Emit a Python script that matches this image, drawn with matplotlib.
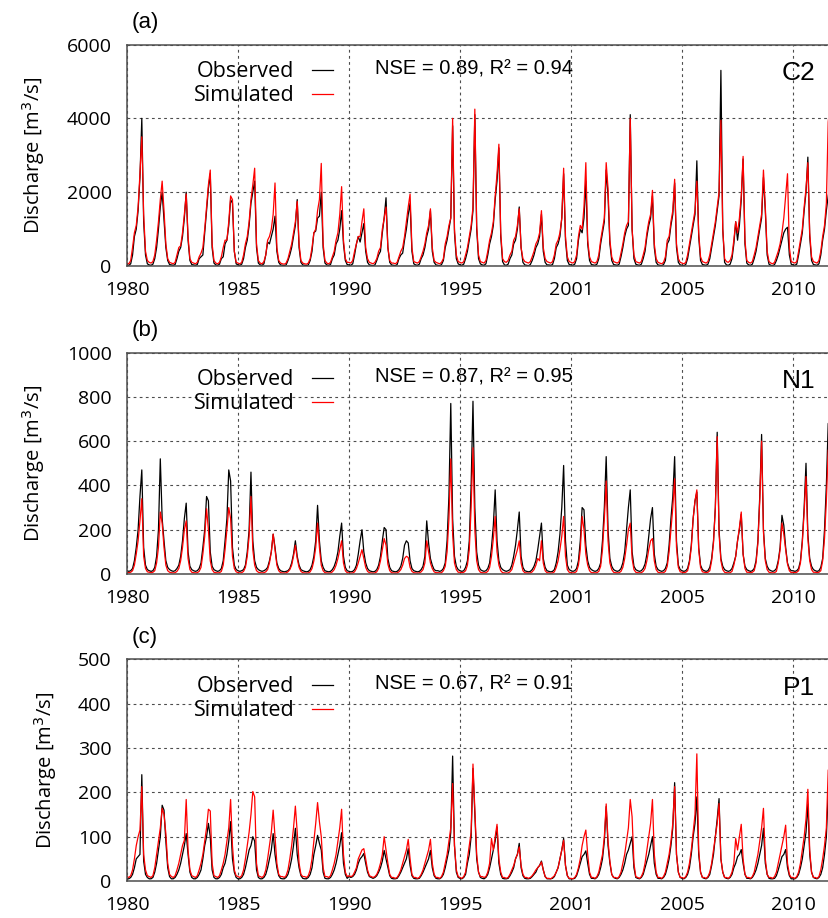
import numpy as np
import matplotlib.pyplot as plt

# monthly discharge, one row per year (Jan..Dec), 1980 - 2011
c2_obs = [
    [30, 20, 60, 300, 800, 1000, 1500, 2400, 4000, 1200, 300, 60],
    [30, 20, 50, 200, 500, 1000, 1600, 2000, 1250, 500, 150, 40],
    [30, 20, 40, 200, 400, 500, 800, 1300, 2000, 700, 150, 40],
    [30, 20, 40, 200, 250, 300, 900, 1500, 2100, 2500, 500, 80],
    [30, 20, 50, 200, 250, 600, 700, 1100, 1800, 1700, 400, 60],
    [30, 20, 50, 200, 500, 700, 1100, 1700, 2000, 2300, 500, 80],
    [30, 20, 60, 300, 650, 600, 800, 1000, 1350, 400, 100, 30],
    [20, 10, 30, 150, 300, 500, 800, 1100, 1800, 500, 100, 30],
    [20, 10, 30, 150, 400, 900, 950, 1300, 1350, 2000, 500, 80],
    [30, 20, 40, 200, 300, 600, 700, 1000, 1500, 600, 150, 40],
    [30, 20, 60, 300, 600, 800, 650, 900, 1150, 400, 100, 30],
    [20, 10, 30, 150, 300, 400, 900, 1300, 1850, 500, 100, 30],
    [20, 10, 40, 200, 300, 350, 700, 1000, 1400, 1700, 400, 60],
    [30, 20, 50, 200, 300, 500, 800, 1000, 1500, 400, 100, 30],
    [20, 10, 40, 150, 500, 700, 1000, 1300, 3800, 900, 200, 60],
    [30, 20, 50, 200, 400, 700, 1000, 1500, 4100, 1000, 200, 60],
    [30, 20, 60, 300, 600, 800, 1100, 1800, 2300, 3200, 800, 120],
    [30, 20, 50, 200, 300, 600, 700, 1000, 1600, 500, 100, 30],
    [20, 10, 40, 150, 300, 500, 600, 800, 1400, 400, 100, 30],
    [30, 20, 40, 200, 500, 600, 800, 1300, 2500, 700, 150, 40],
    [30, 20, 50, 200, 700, 1000, 900, 1300, 2300, 600, 150, 40],
    [30, 20, 50, 200, 600, 900, 1200, 2600, 1900, 600, 150, 40],
    [30, 20, 50, 250, 500, 800, 1000, 1100, 4100, 1000, 200, 50],
    [30, 20, 50, 200, 400, 800, 1100, 1300, 1900, 500, 100, 30],
    [20, 10, 40, 150, 600, 700, 1100, 1400, 2250, 500, 100, 30],
    [20, 10, 40, 200, 500, 800, 1100, 1400, 2850, 800, 150, 40],
    [30, 20, 50, 200, 500, 800, 1100, 1500, 1900, 5300, 1000, 100],
    [30, 20, 50, 200, 600, 1200, 700, 1100, 1800, 2900, 600, 80],
    [30, 20, 50, 200, 400, 700, 1000, 1300, 2400, 1500, 300, 50],
    [20, 10, 40, 150, 300, 500, 700, 900, 1000, 1050, 300, 50],
    [30, 20, 50, 300, 600, 900, 1500, 2000, 2950, 800, 150, 40],
    [30, 20, 60, 300, 700, 1000, 1500, 1900, 2200],
]
c2_sim = [
    [80, 60, 150, 500, 900, 1100, 1600, 2500, 3500, 1400, 400, 150],
    [100, 80, 120, 300, 700, 1200, 1800, 2300, 1500, 600, 200, 100],
    [80, 60, 100, 300, 500, 550, 900, 1400, 1950, 800, 200, 100],
    [80, 60, 100, 250, 350, 500, 1000, 1600, 2200, 2600, 600, 150],
    [80, 60, 100, 250, 500, 700, 700, 1200, 1900, 1800, 400, 100],
    [80, 60, 100, 300, 600, 800, 1200, 1800, 2200, 2650, 600, 150],
    [80, 60, 120, 300, 700, 800, 1000, 1400, 2250, 500, 150, 80],
    [60, 50, 80, 200, 400, 600, 900, 1200, 1750, 600, 150, 80],
    [60, 50, 80, 200, 500, 900, 1000, 1500, 1800, 2780, 600, 150],
    [80, 60, 100, 250, 400, 700, 900, 1400, 2150, 700, 200, 100],
    [100, 80, 150, 400, 600, 800, 800, 1200, 1550, 500, 200, 100],
    [80, 60, 100, 200, 400, 500, 1000, 1300, 1600, 500, 150, 80],
    [80, 60, 100, 250, 400, 500, 800, 1200, 1600, 1950, 500, 120],
    [100, 80, 120, 250, 400, 600, 900, 1100, 1550, 500, 150, 100],
    [80, 60, 100, 200, 600, 800, 1100, 1300, 4000, 1000, 300, 120],
    [100, 80, 120, 300, 500, 800, 1100, 1600, 4250, 1100, 300, 120],
    [100, 80, 150, 400, 700, 900, 1200, 1900, 2500, 3300, 900, 200],
    [120, 100, 150, 300, 400, 700, 800, 1100, 1550, 500, 200, 120],
    [100, 80, 120, 250, 400, 600, 700, 900, 1500, 500, 200, 120],
    [100, 80, 120, 300, 600, 700, 900, 1300, 2650, 800, 250, 120],
    [100, 80, 120, 300, 800, 1100, 1000, 1600, 2800, 700, 250, 120],
    [100, 80, 120, 300, 700, 1000, 1300, 2800, 2100, 700, 250, 120],
    [100, 80, 120, 350, 600, 900, 1100, 1200, 4000, 1000, 300, 120],
    [100, 80, 120, 300, 500, 900, 1200, 1400, 2050, 600, 200, 100],
    [80, 60, 100, 250, 700, 800, 1200, 1500, 2350, 600, 200, 100],
    [80, 60, 100, 300, 600, 900, 1200, 1500, 2300, 900, 250, 120],
    [100, 80, 120, 300, 600, 900, 1200, 1600, 2000, 3950, 1000, 200],
    [120, 100, 150, 300, 700, 1200, 900, 1300, 1900, 2970, 700, 150],
    [100, 80, 120, 300, 500, 800, 1100, 1400, 2600, 1600, 400, 120],
    [80, 60, 100, 250, 400, 600, 900, 1300, 1900, 2500, 500, 120],
    [100, 80, 120, 400, 700, 1000, 1600, 2100, 2800, 900, 250, 120],
    [100, 80, 150, 400, 800, 1100, 1700, 3900, 4400],
]

n1_obs = [
    [15, 12, 15, 25, 60, 120, 200, 350, 470, 120, 40, 20],
    [15, 12, 15, 30, 80, 200, 520, 250, 150, 60, 30, 20],
    [15, 12, 15, 25, 40, 80, 150, 250, 320, 100, 35, 20],
    [15, 12, 15, 25, 50, 120, 200, 350, 330, 100, 35, 20],
    [15, 12, 15, 25, 60, 150, 250, 470, 420, 120, 40, 20],
    [15, 12, 15, 20, 40, 100, 200, 460, 150, 60, 30, 20],
    [15, 12, 15, 20, 30, 60, 100, 180, 120, 50, 25, 15],
    [12, 10, 12, 15, 25, 50, 90, 150, 80, 40, 20, 15],
    [12, 10, 12, 20, 40, 80, 150, 310, 150, 60, 30, 15],
    [12, 10, 12, 20, 35, 60, 100, 170, 230, 80, 30, 15],
    [12, 10, 12, 20, 40, 90, 150, 200, 100, 50, 25, 15],
    [12, 10, 12, 20, 40, 80, 150, 210, 200, 70, 30, 15],
    [12, 10, 12, 20, 35, 70, 130, 150, 140, 60, 25, 15],
    [12, 10, 12, 20, 35, 80, 240, 140, 70, 40, 20, 15],
    [15, 12, 15, 25, 50, 150, 350, 770, 250, 80, 35, 20],
    [15, 12, 15, 30, 60, 150, 400, 780, 300, 100, 40, 20],
    [15, 12, 15, 25, 50, 120, 220, 380, 150, 60, 30, 20],
    [15, 12, 15, 20, 40, 80, 130, 200, 280, 80, 30, 15],
    [12, 10, 12, 20, 35, 60, 110, 170, 230, 70, 30, 15],
    [12, 10, 12, 20, 50, 100, 180, 300, 490, 150, 40, 20],
    [15, 12, 15, 25, 60, 150, 300, 290, 130, 60, 30, 20],
    [15, 12, 15, 25, 50, 150, 300, 530, 200, 70, 35, 20],
    [15, 12, 15, 25, 50, 100, 200, 300, 380, 100, 35, 20],
    [15, 12, 15, 25, 45, 90, 170, 250, 300, 90, 35, 20],
    [15, 12, 15, 25, 50, 130, 250, 350, 530, 150, 40, 20],
    [15, 12, 15, 25, 60, 130, 250, 330, 370, 120, 40, 20],
    [15, 12, 15, 30, 70, 150, 300, 640, 200, 70, 35, 20],
    [15, 12, 15, 25, 50, 80, 150, 200, 270, 90, 35, 20],
    [15, 12, 15, 25, 60, 150, 350, 630, 200, 70, 35, 20],
    [15, 12, 15, 25, 60, 120, 265, 220, 120, 50, 25, 15],
    [15, 12, 15, 25, 60, 150, 300, 500, 180, 70, 35, 20],
    [15, 12, 15, 30, 70, 200, 400, 680, 300],
]
n1_sim = [
    [8, 6, 8, 15, 40, 90, 150, 240, 340, 80, 25, 10],
    [8, 6, 8, 15, 50, 120, 280, 230, 120, 40, 15, 8],
    [6, 5, 6, 12, 25, 60, 120, 200, 240, 70, 20, 8],
    [6, 5, 6, 12, 30, 90, 170, 295, 200, 60, 20, 8],
    [6, 5, 6, 12, 40, 110, 200, 300, 250, 80, 25, 10],
    [6, 5, 6, 12, 30, 80, 170, 350, 110, 40, 15, 8],
    [6, 5, 6, 10, 20, 50, 100, 180, 110, 40, 15, 6],
    [5, 4, 5, 10, 20, 40, 80, 130, 70, 30, 12, 6],
    [5, 4, 5, 10, 25, 60, 120, 230, 120, 40, 15, 6],
    [5, 4, 5, 10, 20, 40, 70, 110, 150, 50, 15, 6],
    [5, 4, 5, 10, 25, 50, 80, 110, 70, 30, 12, 6],
    [5, 4, 5, 10, 25, 60, 110, 160, 130, 45, 15, 6],
    [5, 4, 5, 10, 20, 40, 70, 80, 75, 30, 12, 6],
    [5, 4, 5, 10, 20, 50, 150, 100, 50, 25, 10, 6],
    [6, 5, 6, 15, 35, 100, 250, 520, 180, 50, 20, 8],
    [8, 6, 8, 15, 40, 110, 300, 570, 200, 60, 20, 8],
    [6, 5, 6, 12, 30, 80, 160, 260, 100, 40, 15, 6],
    [5, 4, 5, 10, 20, 50, 80, 110, 150, 50, 15, 6],
    [5, 4, 5, 10, 20, 40, 70, 60, 150, 50, 15, 6],
    [5, 4, 5, 10, 30, 60, 110, 170, 260, 80, 20, 8],
    [6, 5, 6, 12, 40, 110, 260, 200, 90, 40, 15, 6],
    [6, 5, 6, 12, 35, 110, 250, 420, 150, 50, 20, 8],
    [6, 5, 6, 12, 30, 70, 130, 200, 230, 70, 20, 8],
    [6, 5, 6, 12, 25, 60, 110, 150, 160, 60, 20, 8],
    [6, 5, 6, 12, 35, 100, 200, 300, 430, 120, 30, 10],
    [8, 6, 8, 15, 50, 120, 250, 330, 380, 110, 30, 10],
    [8, 6, 8, 15, 60, 140, 300, 620, 180, 60, 20, 8],
    [6, 5, 6, 12, 40, 80, 150, 210, 280, 90, 25, 8],
    [8, 6, 8, 15, 50, 140, 330, 600, 190, 60, 20, 8],
    [6, 5, 6, 12, 50, 110, 230, 180, 110, 45, 15, 6],
    [8, 6, 8, 15, 50, 140, 280, 440, 160, 60, 20, 8],
    [8, 6, 8, 15, 60, 160, 330, 560, 250],
]

p1_obs = [
    [5, 5, 8, 15, 30, 50, 55, 60, 240, 45, 15, 8],
    [5, 5, 8, 20, 40, 70, 100, 171, 160, 90, 30, 10],
    [5, 5, 8, 15, 25, 40, 60, 80, 107, 60, 20, 8],
    [5, 5, 8, 15, 25, 50, 80, 100, 130, 100, 25, 8],
    [5, 5, 8, 15, 30, 40, 60, 90, 134, 50, 20, 8],
    [5, 5, 8, 15, 30, 50, 70, 80, 100, 90, 25, 8],
    [5, 5, 8, 15, 30, 50, 70, 107, 60, 30, 12, 6],
    [5, 5, 8, 15, 30, 50, 80, 119, 60, 30, 12, 6],
    [5, 5, 8, 15, 30, 60, 80, 103, 85, 70, 20, 6],
    [5, 5, 8, 15, 25, 40, 60, 80, 109, 40, 15, 6],
    [10, 8, 10, 15, 25, 40, 50, 55, 62, 40, 20, 10],
    [8, 6, 8, 12, 20, 30, 45, 69, 50, 30, 12, 6],
    [5, 5, 6, 12, 20, 30, 40, 50, 73, 35, 12, 6],
    [5, 5, 6, 12, 20, 30, 40, 50, 69, 30, 12, 6],
    [5, 5, 8, 15, 30, 50, 70, 110, 282, 80, 20, 8],
    [6, 5, 8, 15, 40, 60, 100, 254, 150, 50, 20, 8],
    [6, 5, 8, 15, 30, 50, 70, 90, 122, 40, 15, 6],
    [5, 5, 6, 12, 20, 30, 50, 60, 85, 30, 12, 6],
    [5, 5, 6, 10, 15, 20, 30, 35, 45, 25, 10, 5],
    [5, 5, 6, 10, 20, 30, 50, 70, 96, 35, 12, 5],
    [5, 5, 6, 12, 25, 40, 55, 60, 68, 40, 15, 6],
    [6, 5, 8, 15, 30, 50, 90, 168, 80, 40, 15, 8],
    [6, 5, 8, 15, 25, 40, 60, 70, 85, 100, 30, 8],
    [6, 5, 8, 15, 30, 45, 60, 80, 100, 40, 15, 6],
    [6, 5, 8, 15, 30, 50, 80, 120, 222, 60, 20, 8],
    [6, 5, 8, 15, 30, 60, 100, 130, 190, 60, 20, 8],
    [6, 5, 8, 15, 35, 60, 100, 140, 186, 50, 20, 8],
    [6, 5, 8, 15, 30, 40, 55, 60, 71, 40, 15, 6],
    [6, 5, 8, 15, 25, 40, 60, 80, 119, 40, 15, 6],
    [5, 5, 6, 12, 25, 40, 55, 60, 71, 30, 12, 5],
    [5, 5, 8, 15, 30, 50, 80, 110, 174, 60, 20, 8],
    [6, 5, 8, 15, 30, 60, 100, 200, 220],
]
p1_sim = [
    [10, 8, 12, 25, 50, 80, 100, 115, 213, 60, 25, 12],
    [10, 8, 12, 30, 60, 90, 120, 164, 150, 107, 40, 15],
    [10, 8, 12, 25, 40, 60, 80, 92, 184, 70, 25, 12],
    [10, 8, 12, 25, 40, 60, 90, 120, 162, 158, 40, 12],
    [10, 8, 12, 25, 40, 60, 90, 120, 184, 80, 25, 12],
    [10, 8, 12, 25, 50, 80, 110, 150, 202, 190, 40, 12],
    [10, 8, 12, 25, 50, 80, 110, 160, 100, 40, 15, 10],
    [10, 8, 12, 25, 50, 80, 120, 169, 110, 40, 15, 10],
    [10, 8, 12, 25, 50, 90, 130, 177, 134, 100, 30, 10],
    [10, 8, 12, 25, 40, 60, 90, 120, 162, 60, 20, 10],
    [12, 10, 12, 20, 30, 50, 60, 70, 73, 50, 25, 12],
    [10, 8, 10, 15, 25, 40, 60, 100, 70, 40, 15, 8],
    [8, 6, 8, 15, 25, 40, 55, 70, 94, 50, 15, 8],
    [8, 6, 8, 15, 25, 40, 55, 70, 94, 40, 15, 8],
    [8, 6, 10, 20, 40, 60, 90, 120, 220, 80, 25, 10],
    [8, 6, 10, 20, 50, 80, 110, 264, 160, 60, 20, 10],
    [10, 8, 10, 20, 40, 96, 70, 100, 128, 50, 20, 8],
    [8, 6, 8, 15, 25, 35, 50, 60, 77, 35, 15, 8],
    [8, 6, 8, 12, 18, 25, 30, 35, 43, 25, 10, 6],
    [6, 5, 8, 12, 20, 30, 50, 70, 92, 35, 12, 6],
    [6, 5, 8, 15, 30, 50, 80, 100, 115, 60, 20, 8],
    [8, 6, 10, 20, 40, 60, 100, 174, 90, 45, 15, 8],
    [8, 6, 10, 20, 40, 60, 90, 120, 184, 145, 40, 10],
    [8, 6, 10, 20, 40, 70, 100, 130, 184, 60, 20, 8],
    [8, 6, 10, 20, 40, 60, 90, 130, 213, 60, 20, 8],
    [8, 6, 10, 20, 40, 70, 110, 150, 287, 70, 20, 8],
    [8, 6, 10, 20, 40, 70, 100, 130, 175, 50, 20, 8],
    [8, 6, 10, 20, 40, 96, 70, 100, 128, 50, 15, 8],
    [8, 6, 10, 20, 40, 60, 90, 120, 164, 50, 15, 8],
    [8, 6, 10, 20, 40, 60, 80, 100, 126, 40, 15, 8],
    [8, 6, 10, 20, 40, 70, 100, 140, 207, 70, 20, 8],
    [8, 6, 10, 25, 50, 80, 120, 250, 260],
]

panel_tags = ['(a)', '(b)', '(c)']
stations = ['C2', 'N1', 'P1']
scores = ['NSE = 0.89, R\u00b2 = 0.94', 'NSE = 0.87, R\u00b2 = 0.95', 'NSE = 0.67, R\u00b2 = 0.91']
y_tops = [6000, 1000, 500]
y_steps = [2000, 200, 100]
year_ticks = [1980, 1985, 1990, 1995, 2000, 2005, 2010]
year_labels = ['1980', '1985', '1990', '1995', '2001', '2005', '2010']

series = [(c2_obs, c2_sim), (n1_obs, n1_sim), (p1_obs, p1_sim)]

ui_font = 'Open Sans'
lab_font = 'Liberation Sans'

fig = plt.figure(figsize=(8.29, 9.18), dpi=100)
bottoms = [0.7102, 0.3747, 0.0403]

for k in range(3):
    ax = fig.add_axes([0.1532, bottoms[k], 0.857, 0.2413])
    obs = np.concatenate([np.array(r, float) for r in series[k][0]])
    sim = np.concatenate([np.array(r, float) for r in series[k][1]])
    t = 1980 + np.arange(len(obs)) / 12.0

    ax.plot(t, obs, color='black', lw=0.9, label='Observed')
    ax.plot(t, sim, color='#ff0000', lw=0.9, label='Simulated')

    ax.set_xlim(1980, 2012)
    ax.set_ylim(0, y_tops[k])
    ax.set_xticks(year_ticks)
    ax.set_xticklabels(year_labels)
    ax.set_yticks(np.arange(0, y_tops[k] + 1, y_steps[k]))
    ax.tick_params(length=0, pad=11, labelsize=14)
    for lbl in ax.get_xticklabels() + ax.get_yticklabels():
        lbl.set_family(ui_font)

    ax.grid(True, color='0.3', lw=0.8, linestyle=(0, (2.5, 3)))
    ax.spines['right'].set_visible(False)
    for s in ['top', 'left', 'bottom']:
        ax.spines[s].set_color('0.3')
        ax.spines[s].set_linewidth(1.1)

    ax.set_ylabel('Discharge [m$^3$/s]', fontsize=14.5, family=ui_font, labelpad=14)

    leg = ax.legend(loc='upper right', bbox_to_anchor=(0.29, 0.925), markerfirst=False,
                    frameon=False, handlelength=1.0, handletextpad=0.8, labelspacing=0.15,
                    borderpad=0, borderaxespad=0, prop={'family': ui_font, 'size': 15.5})

    ax.text(0.349, 0.89, scores[k], transform=ax.transAxes, ha='left', va='center',
            fontsize=14.5, family=lab_font)
    ax.text(0.9685, 0.87, stations[k], transform=ax.transAxes, ha='right', va='center',
            fontsize=19, family=lab_font)
    ax.text(0.007, 1.05, panel_tags[k], transform=ax.transAxes, ha='left', va='bottom',
            fontsize=16, family=lab_font)

fig.savefig('out.png', dpi=100)
